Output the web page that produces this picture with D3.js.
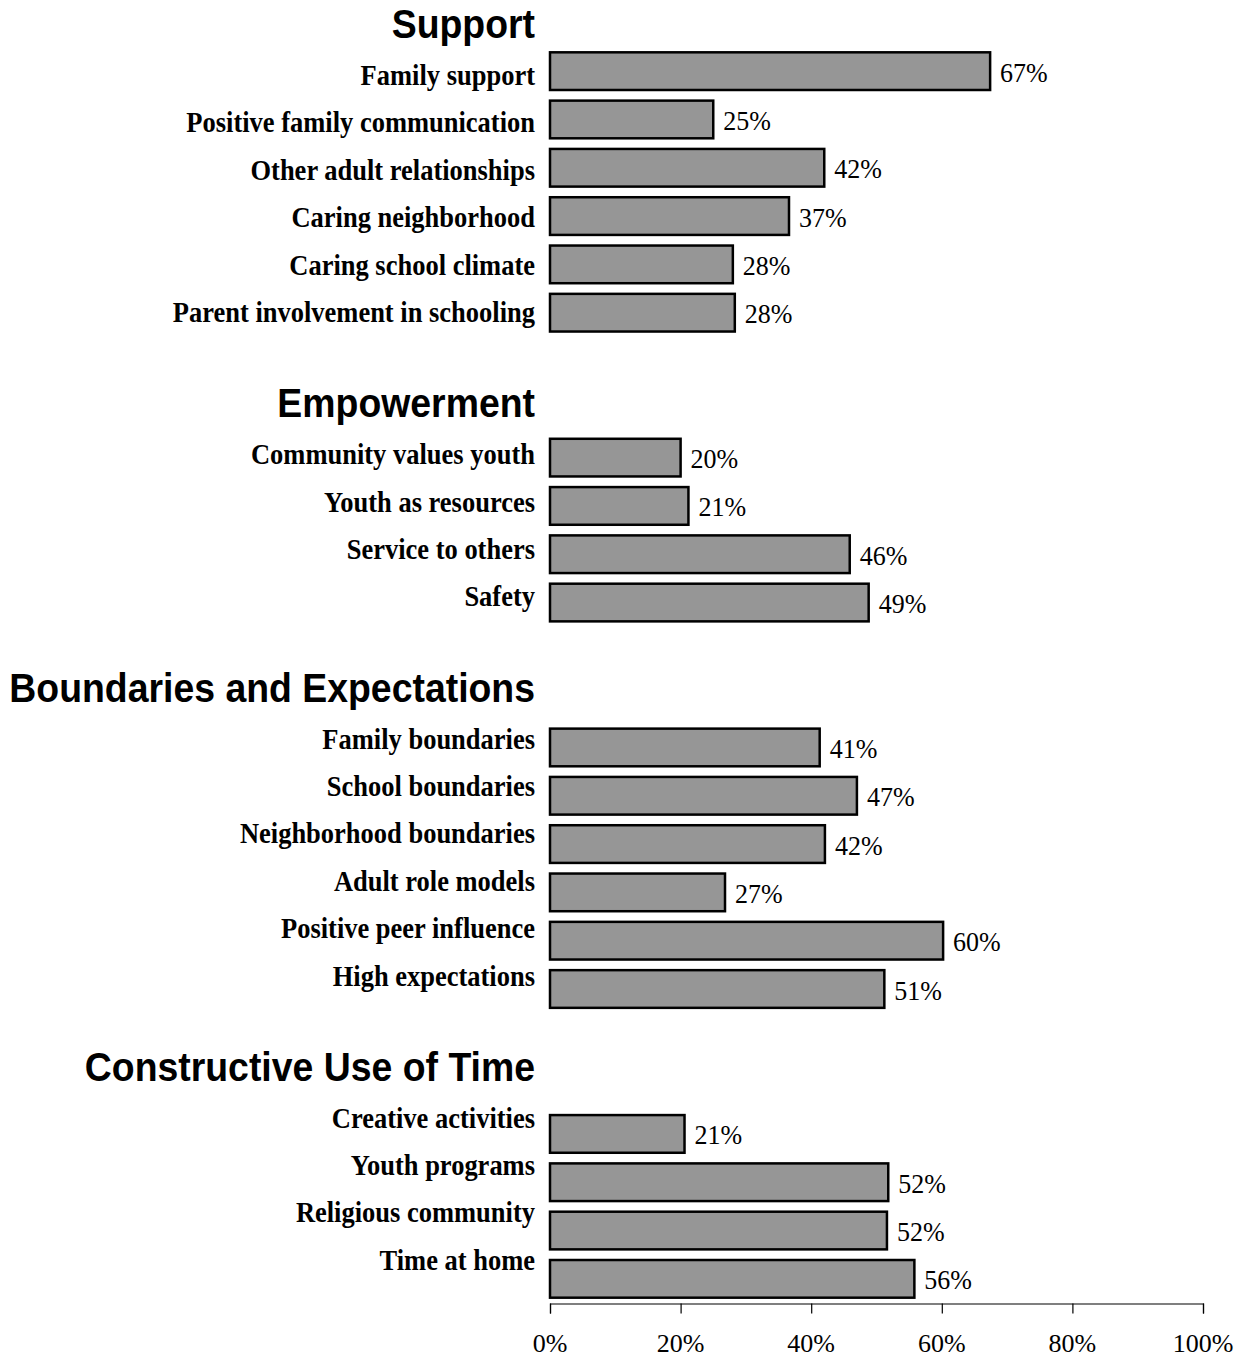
<!DOCTYPE html>
<html>
<head>
<meta charset="utf-8">
<script src="https://cdn.jsdelivr.net/npm/d3@7"></script>
<style>
  html, body { margin: 0; padding: 0; background: #fff; }
  svg { display: block; }
  .heading { font-family: "Liberation Sans", Arial, sans-serif; font-weight: bold; font-size: 37.4px; }
  .label { font-family: "Liberation Serif", "Times New Roman", serif; font-weight: bold; font-size: 26.5px; }
  .value, .tick-label { font-family: "Liberation Serif", "Times New Roman", serif; font-size: 26px; }
</style>
</head>
<body>
<div class="chart"></div>
<script>
const groupNames = ['Support', 'Empowerment', 'Boundaries and Expectations', 'Constructive Use of Time'];

const supportNames = ['Family support', 'Positive family communication', 'Other adult relationships',
  'Caring neighborhood', 'Caring school climate', 'Parent involvement in schooling'];
const supportValues = [67.4, 25.0, 42.0, 36.6, 28.0, 28.3];

const empowermentNames = ['Community values youth', 'Youth as resources', 'Service to others', 'Safety'];
const empowermentValues = [20.0, 21.2, 45.9, 48.8];

const boundariesNames = ['Family boundaries', 'School boundaries', 'Neighborhood boundaries',
  'Adult role models', 'Positive peer influence', 'High expectations'];
const boundariesValues = [41.3, 47.0, 42.1, 26.8, 60.2, 51.2];

const timeNames = ['Creative activities', 'Youth programs', 'Religious community', 'Time at home'];
const timeValues = [20.6, 51.8, 51.6, 55.8];

const tickValues = [0, 20, 40, 60, 80, 100];

const width = 1251;
const height = 1357;
const stretch = 1.09;

// lay groups out on a slot grid, two empty slots between groups
const groupRows = [
  [supportNames, supportValues],
  [empowermentNames, empowermentValues],
  [boundariesNames, boundariesValues],
  [timeNames, timeValues],
];
const rows = [];
const headings = [];
let slot = 0;
groupRows.forEach(([names, values], gi) => {
  headings.push({ name: groupNames[gi], slot: slot - 1 });
  names.forEach((name, i) => {
    rows.push({ name, value: values[i], slot: slot + i });
  });
  slot += names.length + 2;
});
const slotCount = slot - 2;

const x = d3.scaleLinear().domain([0, 100]).range([550, 1203]);
const y = d3.scaleBand()
  .domain(d3.range(slotCount))
  .range([47, 1303])
  .paddingInner(0.22)
  .paddingOuter(0.11);
const slotCenter = (s) => y(0) + y.step() * s + y.bandwidth() / 2;
// label text runs on a slightly tighter pitch than the bars
const labelBase = (s) => 15.3 + 0.981 * slotCenter(s);

const svg = d3.select('.chart')
  .append('svg')
  .attr('width', width)
  .attr('height', height);

svg.selectAll('.heading')
  .data(headings)
  .join('text')
  .attr('class', 'heading')
  .attr('text-anchor', 'end')
  .attr('transform', (d) => `translate(535,${labelBase(d.slot) + 0.5}) scale(1,${stretch})`)
  .text((d) => d.name);

svg.selectAll('.label')
  .data(rows)
  .join('text')
  .attr('class', 'label')
  .attr('text-anchor', 'end')
  .attr('transform', (d) => `translate(535,${labelBase(d.slot)}) scale(1,${stretch})`)
  .text((d) => d.name);

svg.selectAll('.bar')
  .data(rows)
  .join('rect')
  .attr('class', 'bar')
  .attr('x', x(0))
  .attr('y', (d) => y(d.slot))
  .attr('width', (d) => x(d.value) - x(0))
  .attr('height', y.bandwidth())
  .attr('fill', '#969696')
  .attr('stroke', '#000')
  .attr('stroke-width', 2.5);

const fmt = d3.format('.0f');
svg.selectAll('.value')
  .data(rows)
  .join('text')
  .attr('class', 'value')
  .attr('transform', (d) => `translate(${x(d.value) + 10},${slotCenter(d.slot) + 10.5}) scale(1,1.04)`)
  .text((d) => `${fmt(d.value)}%`);

const axis = svg.append('g')
  .attr('transform', 'translate(0,1303.5)')
  .call(d3.axisBottom(x).tickValues(tickValues).tickSize(10).tickFormat(''));
axis.select('.domain').attr('stroke', '#000').attr('stroke-width', 1.2);
axis.selectAll('.tick line').attr('stroke', '#000').attr('stroke-width', 1.2);

svg.selectAll('.tick-label')
  .data(tickValues)
  .join('text')
  .attr('class', 'tick-label')
  .attr('text-anchor', 'middle')
  .attr('x', (d) => x(d))
  .attr('y', 1352)
  .text((d) => `${d}%`);
</script>
</body>
</html>
